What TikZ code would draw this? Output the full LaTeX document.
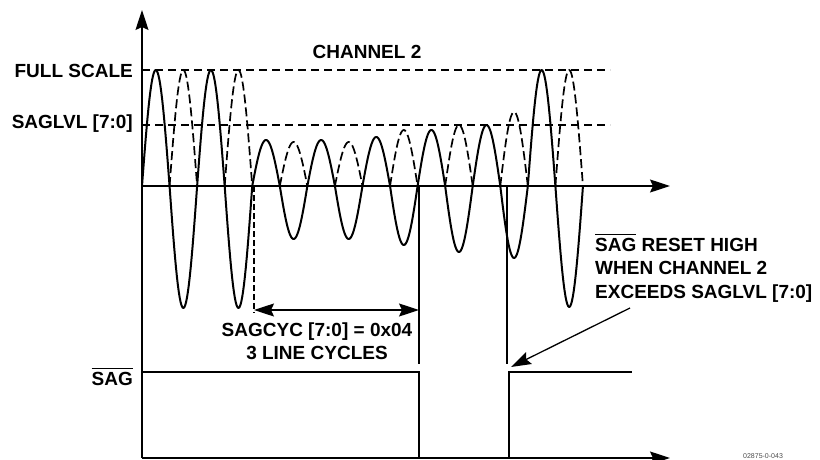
\documentclass[tikz,border=0pt]{standalone}
\usepackage{fontspec}
\setmainfont{Liberation Sans}
\usetikzlibrary{arrows.meta}
\newcommand{\ovl}[1]{\setbox0\hbox{#1}\rlap{\rule[\dimexpr\ht0+3pt\relax]{\wd0}{1.3pt}}\box0}

\begin{document}
\begin{tikzpicture}[x=1pt,y=-1pt,>={Stealth[length=20pt,width=13pt,inset=3pt]},
  lbl/.style={font=\fontsize{19}{23.5}\selectfont\bfseries,inner sep=0pt},
  axis/.style={line width=1.3pt},
  level/.style={line width=1.3pt,dash pattern=on 8pt off 5pt},
  wave/.style={line width=2pt,line join=round},
  ghost/.style={line width=1.7pt,dash pattern=on 9pt off 4pt},
  sig/.style={line width=2.8pt}]
  \useasboundingbox (0,0) rectangle (820,460);
  % axes and levels
  \coordinate (o) at (142,186);
  \coordinate (top) at (142,10);
  \coordinate (xend) at (670,186);
  \coordinate (b) at (142,458);
  \coordinate (bend) at (670,458);
  \coordinate (fs) at (142,70);
  \coordinate (fsend) at (610,70);
  \coordinate (sl) at (142,125);
  \coordinate (slend) at (610,125);
  \draw[axis,->] (b)--(top);
  \draw[axis,->] (o)--(xend);
  \draw[axis,->] (b)--(bend);
  \draw[level] (fs)--(fsend);
  \draw[level] (sl)--(slend);
  % channel 2, one half cycle at a time
  \foreach \i/\a in {0/116,1/-122,2/116,3/-122,4/46,5/-53,6/46,7/-53,8/49,9/-59,10/56,11/-66,12/61,13/-72,14/116,15/-121}
  {
    \draw[wave] plot[variable=\t,domain=0:180,samples=31] ({142+(\i+\t/180)*27.56},{186-\a*sin(\t)});
  }
  % folded negative halves
  \foreach \i/\a in {1/116,3/116,5/44,7/44,9/56,11/61,13/74,15/116}
  {
    \draw[ghost] plot[variable=\t,domain=0:180,samples=31] ({142+(\i+\t/180)*27.56},{186-\a*sin(\t)});
  }
  % SAG output
  \coordinate (s0) at (142,372);
  \coordinate (s1) at (419,372);
  \coordinate (s2) at (419,458);
  \coordinate (s3) at (509,458);
  \coordinate (s4) at (509,372);
  \coordinate (s5) at (632,372);
  \draw[sig] (s0)--(s1)--(s2)--(s3)--(s4)--(s5);
  % markers
  \coordinate (m0) at (254,186);
  \coordinate (m0b) at (254,313);
  \coordinate (m1) at (419,186);
  \coordinate (m1b) at (419,364);
  \coordinate (m2) at (507,186);
  \coordinate (m2b) at (507,364);
  \draw[line width=1.2pt,dash pattern=on 6pt off 3pt] (m0)--(m0b);
  \draw[line width=1.1pt] (m1)--(m1b);
  \draw[line width=1.1pt] (m2)--(m2b);
  \coordinate (c0) at (254,310);
  \coordinate (c1) at (419,310);
  \draw[axis,<->] (c0)--(c1);
  % labels
  \node[lbl] (ch) at (367,52) {CHANNEL 2};
  \node[lbl,anchor=east] (fslbl) at (133,71) {FULL SCALE};
  \node[lbl,anchor=east] (sllbl) at (133,124) {SAGLVL [7:0]};
  \node[lbl,anchor=east] (saglbl) at (133,377) {\ovl{SAG}};
  \node[lbl,align=center] (cyc) at (317,341) {SAGCYC [7:0] = 0x04\\3 LINE CYCLES};
  \node[lbl,align=left,anchor=west] (reset) at (595,268) {\ovl{SAG}\ RESET HIGH\\WHEN CHANNEL 2\\EXCEEDS SAGLVL [7:0]};
  \coordinate (tail) at (630,308);
  \coordinate (tip) at (511,367);
  \draw[axis,->] (tail)--(tip);
  \node[font=\fontsize{7}{8}\selectfont,text=black!70,anchor=north west,inner sep=0pt] (code) at (743,453) {02875-0-043};
\end{tikzpicture}
\end{document}
